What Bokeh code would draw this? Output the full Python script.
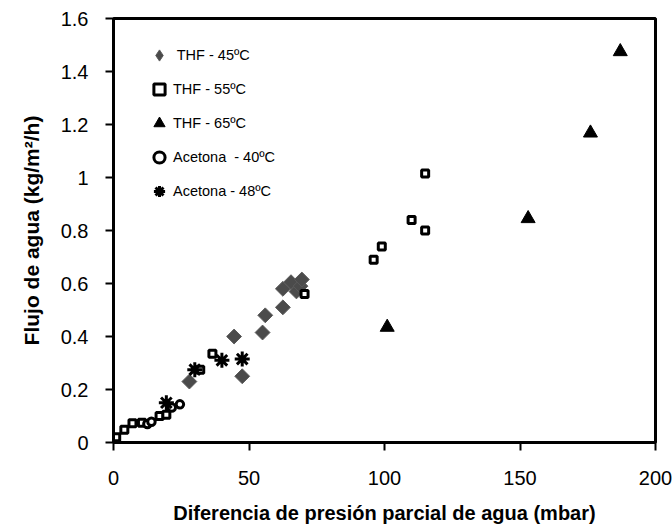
from bokeh.plotting import figure
from bokeh.models import FixedTicker, Legend, LegendItem, Range1d
from bokeh.embed import file_html
from bokeh.resources import INLINE

# --- data ---
x_ticks = [0, 50, 100, 150, 200]
y_ticks = [0, 0.2, 0.4, 0.6, 0.8, 1.0, 1.2, 1.4, 1.6]
y_tick_labels = ["0", "0.2", "0.4", "0.6", "0.8", "1", "1.2", "1.4", "1.6"]

thf45_x = [28, 44.5, 47.5, 55, 56, 62.5, 62.5, 65.5, 67.5, 69, 69.5]
thf45_y = [0.23, 0.40, 0.25, 0.415, 0.48, 0.51, 0.58, 0.605, 0.57, 0.59, 0.615]

thf55_x = [1, 4, 7, 10.5, 17, 19.5, 32, 36.5, 70.5, 96, 99, 110, 115, 115]
thf55_y = [0.02, 0.048, 0.073, 0.075, 0.10, 0.105, 0.275, 0.335, 0.56, 0.69, 0.74, 0.84, 0.80, 1.015]

thf65_x = [101, 153, 176, 187]
thf65_y = [0.435, 0.845, 1.168, 1.475]

ac40_x = [12.5, 14, 21.5, 24.5]
ac40_y = [0.07, 0.078, 0.132, 0.144]

ac48_x = [19.5, 30, 40, 47.5]
ac48_y = [0.15, 0.275, 0.31, 0.315]

labels = [" THF - 45ºC", "THF - 55ºC", "THF - 65ºC", "Acetona  - 40ºC", "Acetona - 48ºC"]

FONT = "Liberation Sans"
GRAY = "#4b4b4b"

p = figure(width=672, height=532, x_range=Range1d(0, 200), y_range=Range1d(0, 1.6),
           output_backend="svg", toolbar_location=None,
           min_border_left=113, min_border_right=17, min_border_top=18, min_border_bottom=90)
p.background_fill_color = "white"
p.border_fill_color = "white"
p.outline_line_color = "black"
p.outline_line_width = 3
p.xgrid.visible = False
p.ygrid.visible = False

# diamond marker (used by the legend), covered by a rotated square of the same colour
r1_leg = p.scatter(thf45_x, thf45_y, marker="diamond", size=12, fill_color=GRAY, line_color="#5a5a5a", line_width=1)
r1 = p.scatter(thf45_x, thf45_y, marker="square", angle=0.785398, size=10.5,
               fill_color=GRAY, line_color="#5a5a5a", line_width=1)
r2 = p.scatter(thf55_x, thf55_y, marker="square", size=7, fill_color="white", line_color="black", line_width=3)
r3 = p.scatter(thf65_x, thf65_y, marker="triangle", size=14, fill_color="black", line_color="black", line_width=1)
r4 = p.scatter(ac40_x, ac40_y, marker="circle", size=7.5, fill_color="white", line_color="black", line_width=3)
r5 = p.scatter(ac48_x, ac48_y, marker="asterisk", size=15, line_color="black", line_width=3)

legend = Legend(items=[LegendItem(label=labels[i], renderers=[r]) for i, r in enumerate([r1_leg, r2, r3, r4, r5])],
                location=(32, 237), padding=0, spacing=6, glyph_width=28, glyph_height=28,
                label_height=28, label_standoff=0, label_text_font=FONT, label_text_font_size="14.5px",
                label_text_color="black", border_line_color=None, background_fill_alpha=0)
p.add_layout(legend)

for ax in (p.xaxis[0], p.yaxis[0]):
    ax.axis_line_width = 3
    ax.axis_line_color = "black"
    ax.major_tick_line_width = 2
    ax.major_tick_line_color = "black"
    ax.major_tick_out = 8
    ax.major_tick_in = 0
    ax.minor_tick_line_color = None
    ax.major_label_text_font = FONT
    ax.major_label_text_font_size = "20px"
    ax.major_label_text_color = "black"
    ax.axis_label_text_font = FONT
    ax.axis_label_text_font_style = "bold"
    ax.axis_label_text_color = "black"

p.xaxis.axis_label_text_font_size = "20px"
p.yaxis.axis_label_text_font_size = "21px"
p.xaxis.ticker = FixedTicker(ticks=x_ticks)
p.yaxis.ticker = FixedTicker(ticks=y_ticks)
p.yaxis.major_label_overrides = {t: l for t, l in zip(y_ticks, y_tick_labels)}
p.xaxis.major_label_standoff = 20
p.yaxis.major_label_standoff = 17
p.xaxis.axis_label = "Diferencia de presión parcial de agua (mbar)"
p.yaxis.axis_label = "Flujo de agua (kg/m²/h)"
p.xaxis.axis_label_standoff = 14
p.yaxis.axis_label_standoff = 15

open("out.html", "w").write(file_html(p, INLINE))
